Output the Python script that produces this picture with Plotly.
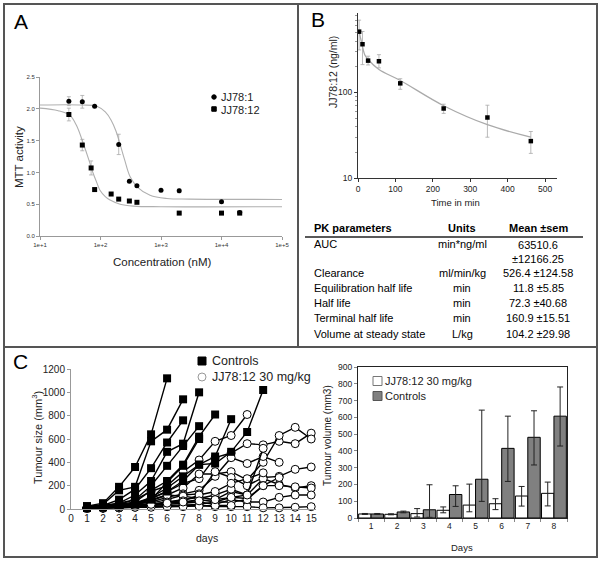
import plotly.graph_objects as go

W, H = 601, 562
def px(x): return x / W
def py(y): return 1 - y / H

FONT = "Liberation Sans, Arial, sans-serif"

# ---------------- Panel A: MTT dose response ----------------
conc_jj1 = [30, 50, 80, 200, 300, 400, 1000, 2000, 10000, 20000]
mtt_jj1 = [2.12, 2.11, 2.04, 1.44, 0.86, 0.79, 0.72, 0.71, 0.54, 0.37]
err_jj1 = [0.07, 0.10, 0.0, 0.16, 0.0, 0.0, 0.0, 0.03, 0.0, 0.0]
conc_jj12 = [30, 50, 70, 80, 150, 200, 300, 400, 2000, 10000, 20000]
mtt_jj12 = [1.91, 1.43, 1.07, 0.73, 0.66, 0.58, 0.55, 0.53, 0.36, 0.36, 0.36]
err_jj12 = [0.10, 0.09, 0.11, 0.02, 0, 0, 0, 0, 0, 0, 0]
fit_conc_jj1 = [10, 50, 87, 120, 150, 180, 211, 250, 309, 407, 660, 1250, 3000, 100000]
fit_mtt_jj1 = [2.06, 2.06, 2.04, 1.95, 1.82, 1.65, 1.44, 1.2, 0.93, 0.77, 0.64, 0.59, 0.58, 0.575]
fit_conc_jj12 = [10, 20, 31, 40, 53, 64, 74, 86, 98, 120, 144, 211, 350, 1000, 100000]
fit_mtt_jj12 = [2.01, 1.97, 1.9, 1.74, 1.43, 1.2, 1.01, 0.85, 0.72, 0.62, 0.565, 0.5, 0.47, 0.46, 0.46]
a_xticks = [10, 100, 1000, 10000, 100000]
a_xticklabels = ["1e+1", "1e+2", "1e+3", "1e+4", "1e+5"]
a_legend_names = ["JJ78:1", "JJ78:12"]

# ---------------- Panel B: PK profile ----------------
pk_time = [3, 12, 27, 56, 113, 229, 346, 462]
pk_conc = [515, 367, 236, 232, 128, 65, 51, 27]
pk_err_plus = [187, 150, 30, 45, 17, 8, 20, 8]
pk_err_minus = [200, 155, 26, 38, 19, 8, 21, 7.6]
pk_fit_time = [3, 9, 18, 27, 56, 112, 229, 346, 462]
pk_fit_conc = [515, 395, 277, 243, 186, 139, 70, 42, 30]

pk_params = ["AUC", "Clearance", "Equilibration half life", "Half life",
             "Terminal half life", "Volume at steady state"]
pk_units = ["min*ng/ml", "ml/min/kg", "min", "min", "min", "L/kg"]
pk_means = ["63510.6<br>±12166.25", "526.4 ±124.58", "11.8 ±5.85", "72.3 ±40.68",
            "160.9 ±15.51", "104.2 ±29.98"]
pk_row_y = [244, 273, 288, 303, 318, 334]

# ---------------- Panel C left: individual tumour growth ----------------
controls = [
    [25, 50, 190, 360, 640, 1120],
    [20, 40, 160, 190, 580, 680, 940],
    [15, 30, 80, 170, 350, 570, 760],
    [20, 30, 50, 120, 240, 490, 560, 1000],
    [15, 25, 40, 80, 200, 370, 540, 710],
    [15, 20, 40, 60, 160, 240, 380, 620, 810],
    [10, 20, 30, 50, 100, 180, 280, 380, 390, 490, 660, 1020],
    [10, 15, 25, 40, 90, 150, 240, 380, 450, 770],
    [12, 18, 30, 40, 80, 230, 370, 600],
]
treated = [
    [15, 25, 50, 80, 150, 200, 320, 420, 580, 630, 810],
    [10, 20, 30, 50, 90, 150, 220, 260, 440, 480, 560, 550, 580, 560, 650],
    [10, 15, 25, 40, 70, 120, 180, 300, 300, 320, 250, 400, 630, 700, 600],
    [10, 15, 20, 40, 60, 100, 130, 160, 280, 440, 390, 450, 400],
    [5, 10, 20, 30, 50, 80, 120, 130, 320, 270, 200, 270, 280, 340, 360],
    [5, 10, 15, 30, 40, 60, 80, 100, 80, 150, 120, 260, 210, 180, 200],
    [5, 10, 15, 20, 30, 50, 60, 80, 60, 100, 90, 200, 200, 190, 180],
    [5, 10, 10, 20, 30, 40, 50, 60, 40, 80, 60, 60, 100, 120, 120],
    [5, 5, 10, 15, 20, 20, 30, 30, 20, 20, 20, 10, 10, 15, 20],
    [10, 20, 30, 50, 80, 120, 110, 90, 120, 170, 120, 520],
    [10, 15, 20, 30, 40, 60, 70, 120, 150, 220, 260, 310],
    [5, 10, 15, 20, 25, 30, 40, 40, 60, 60, 80, 200, 270],
    [5, 10, 10, 15, 15, 20, 20, 25, 30, 30],
    [10, 15, 20, 30, 40, 50, 60, 70, 80, 100, 120],
]
cl_legend_names = ["Controls", "JJ78:12 30 mg/kg"]

# ---------------- Panel C right: mean tumour volume ----------------
bar_days = ["1", "2", "3", "4", "5", "6", "7", "8"]
vol_treated = [24, 22, 26, 46, 77, 85, 131, 147]
err_treated_plus = [3, 3, 30, 20, 125, 30, 57, 67]
err_treated_minus = [3, 3, 20, 15, 40, 35, 60, 75]
vol_ctrl = [24, 36, 49, 140, 231, 415, 481, 607]
err_ctrl_plus = [3, 5, 149, 52, 412, 192, 158, 174]
err_ctrl_minus = [3, 5, 45, 71, 132, 197, 165, 178]
cr_legend_names = ["JJ78:12 30 mg/kg", "Controls"]

fig = go.Figure()

# Panel A traces
fig.add_trace(go.Scatter(x=fit_conc_jj1, y=fit_mtt_jj1, mode="lines", line=dict(color="#b0b0b0", width=1.1, shape="spline"),
                         showlegend=False, xaxis="x", yaxis="y", hoverinfo="skip"))
fig.add_trace(go.Scatter(x=fit_conc_jj12, y=fit_mtt_jj12, mode="lines", line=dict(color="#b0b0b0", width=1.1, shape="spline"),
                         showlegend=False, xaxis="x", yaxis="y", hoverinfo="skip"))
fig.add_trace(go.Scatter(x=conc_jj1, y=mtt_jj1, mode="markers", name=a_legend_names[0], showlegend=False,
                         marker=dict(symbol="circle", size=5, color="black"),
                         error_y=dict(type="data", array=err_jj1, color="#aaaaaa", thickness=0.8, width=2),
                         xaxis="x", yaxis="y"))
fig.add_trace(go.Scatter(x=conc_jj12, y=mtt_jj12, mode="markers", name=a_legend_names[1], showlegend=False,
                         marker=dict(symbol="square", size=5, color="black"),
                         error_y=dict(type="data", array=err_jj12, color="#aaaaaa", thickness=0.8, width=2),
                         xaxis="x", yaxis="y"))

# Panel B traces
fig.add_trace(go.Scatter(x=pk_fit_time, y=pk_fit_conc, mode="lines", line=dict(color="#aaaaaa", width=1.3, shape="spline"),
                         showlegend=False, xaxis="x2", yaxis="y2", hoverinfo="skip"))
fig.add_trace(go.Scatter(x=pk_time, y=pk_conc, mode="markers", showlegend=False,
                         marker=dict(symbol="square", size=4.5, color="black"),
                         error_y=dict(type="data", symmetric=False, array=pk_err_plus, arrayminus=pk_err_minus,
                                      color="#aaaaaa", thickness=0.8, width=2),
                         xaxis="x2", yaxis="y2"))

# Panel C left traces
for mouse in treated:
    fig.add_trace(go.Scatter(x=list(range(1, len(mouse) + 1)), y=mouse, mode="lines+markers", showlegend=False,
                             name=cl_legend_names[1],
                             line=dict(color="black", width=1.4),
                             marker=dict(symbol="circle", size=8, color="white", line=dict(color="black", width=1)),
                             cliponaxis=False, xaxis="x3", yaxis="y3"))
for mouse in controls:
    fig.add_trace(go.Scatter(x=list(range(1, len(mouse) + 1)), y=mouse, mode="lines+markers", showlegend=False,
                             name=cl_legend_names[0],
                             line=dict(color="black", width=1.4),
                             marker=dict(symbol="square", size=8, color="black"),
                             cliponaxis=False, xaxis="x3", yaxis="y3"))

# Panel C right traces
fig.add_trace(go.Bar(x=bar_days, y=vol_treated, name=cr_legend_names[0], showlegend=False,
                     marker=dict(color="white", line=dict(color="black", width=1)),
                     error_y=dict(type="data", symmetric=False, array=err_treated_plus, arrayminus=err_treated_minus,
                                  color="#222222", thickness=1, width=3),
                     xaxis="x4", yaxis="y4"))
fig.add_trace(go.Bar(x=bar_days, y=vol_ctrl, name=cr_legend_names[1], showlegend=False,
                     marker=dict(color="#808080", line=dict(color="black", width=1)),
                     error_y=dict(type="data", symmetric=False, array=err_ctrl_plus, arrayminus=err_ctrl_minus,
                                  color="#222222", thickness=1, width=3),
                     xaxis="x4", yaxis="y4"))

annotations = []
def ann(text, x, y, size, xanchor="center", yanchor="middle", angle=0, bold=False, color="black"):
    if bold:
        text = "<b>" + text + "</b>"
    annotations.append(dict(text=text, x=px(x), y=py(y), xref="paper", yref="paper", showarrow=False,
                            xanchor=xanchor, yanchor=yanchor, textangle=angle,
                            font=dict(family=FONT, size=size, color=color)))

shapes = [
    dict(type="rect", xref="paper", yref="paper", x0=px(4), x1=px(597), y0=py(557), y1=py(4),
         line=dict(color="#555555", width=2)),
    dict(type="line", xref="paper", yref="paper", x0=px(298), x1=px(298), y0=py(347), y1=py(4),
         line=dict(color="#555555", width=2)),
    dict(type="line", xref="paper", yref="paper", x0=px(4), x1=px(597), y0=py(347), y1=py(347),
         line=dict(color="#555555", width=2)),
    dict(type="line", xref="paper", yref="paper", x0=px(305), x1=px(583), y0=py(237), y1=py(237),
         line=dict(color="#222222", width=1.5)),
]

def legend_symbol(kind, cx, cy, size, fill, outline):
    shapes.append(dict(type=kind, xref="paper", yref="paper",
                       x0=px(cx - size / 2), x1=px(cx + size / 2), y0=py(cy + size / 2), y1=py(cy - size / 2),
                       fillcolor=fill, line=dict(color=outline, width=1)))

# panel letters
ann("A", 21, 22, 21)
ann("B", 318, 19, 21)
ann("C", 20, 361, 21)
# axis titles
ann("MTT activity", 19, 157, 11.5, angle=-90, color="#222")
ann("Concentration (nM)", 162, 262, 11.5, color="#222")
ann("JJ78:12 (ng/ml)", 333, 72, 10.5, angle=-90, color="#222")
ann("Time in min", 455, 202, 9.5, color="#222")
ann("Tumour size (mm<sup>3</sup>)", 37, 438, 11, angle=-90, color="#222")
ann("days", 207, 538, 10.5, color="#222")
ann("Tumour volume (mm3)", 328, 436, 10, angle=-90, color="#222")
ann("Days", 462, 547, 9.5, color="#222")

# legends (drawn manually for compact row spacing)
legend_symbol("circle", 214, 97, 4.5, "black", "black")
ann(a_legend_names[0], 219, 97, 11, xanchor="left", color="#222")
legend_symbol("rect", 214, 109, 4.5, "black", "black")
ann(a_legend_names[1], 219, 109.5, 11, xanchor="left", color="#222")

legend_symbol("rect", 202, 361, 8, "black", "black")
ann(cl_legend_names[0], 210, 361, 12.5, xanchor="left", color="#222")
legend_symbol("circle", 202, 377, 8, "white", "#999999")
ann(cl_legend_names[1], 210, 377, 12.5, xanchor="left", color="#222")

legend_symbol("rect", 377.5, 381, 9, "white", "#777777")
ann(cr_legend_names[0], 383, 381, 11, xanchor="left", color="#222")
legend_symbol("rect", 377.5, 396, 9, "#808080", "#555555")
ann(cr_legend_names[1], 383, 396, 11, xanchor="left", color="#222")

# PK table
ann("PK parameters", 312, 228, 11, xanchor="left", bold=True)
ann("Units", 462, 228, 11, bold=True)
ann("Mean ±sem", 538, 228, 11, bold=True)
for p, u, m, yy in zip(pk_params, pk_units, pk_means, pk_row_y):
    ann(p, 312, yy, 11, xanchor="left")
    ann(u, 462, yy, 11)
    if "<br>" in m:
        annotations.append(dict(text=m, x=px(538), y=py(yy - 7), xref="paper", yref="paper", showarrow=False,
                                xanchor="center", yanchor="top", font=dict(family=FONT, size=11, color="black")))
    else:
        ann(m, 538, yy, 11)

fig.update_layout(
    width=W, height=H, template="none",
    margin=dict(l=0, r=0, t=0, b=0),
    paper_bgcolor="white", plot_bgcolor="rgba(0,0,0,0)",
    font=dict(family=FONT, color="#222"),
    showlegend=False,
    barmode="group", bargap=0.05, bargroupgap=0,
    annotations=annotations, shapes=shapes,
    # Panel A axes
    xaxis=dict(domain=[px(40), px(282)], type="log", range=[1, 5], tickvals=a_xticks, ticktext=a_xticklabels,
               showline=True, linecolor="#999", linewidth=1, ticks="outside", ticklen=3, tickcolor="#999",
               showgrid=False, zeroline=False, tickfont=dict(size=6, color="#333"), anchor="y"),
    yaxis=dict(domain=[py(236), py(77)], range=[0, 2.5], dtick=0.5, tickformat=".1f",
               showline=True, linecolor="#999", linewidth=1, ticks="outside", ticklen=3, tickcolor="#999",
               showgrid=False, zeroline=False, tickfont=dict(size=6, color="#333"), anchor="x"),
    # Panel B axes
    xaxis2=dict(domain=[px(358), px(557)], range=[0, 532], dtick=100,
                showline=True, linecolor="#333", linewidth=1, ticks="outside", ticklen=3, tickcolor="#333",
                showgrid=False, zeroline=False, tickfont=dict(size=8.5, color="#222"), anchor="y2"),
    yaxis2=dict(domain=[py(178), py(13)], type="log", range=[1, 2.93], tickvals=[10, 100],
                showline=True, linecolor="#333", linewidth=1, ticks="outside", ticklen=3, tickcolor="#333",
                minor=dict(ticks="outside", ticklen=2, tickcolor="#999",
                           tickvals=[20, 30, 40, 50, 60, 70, 80, 90, 200, 300, 400, 500, 600, 700, 800]),
                showgrid=False, zeroline=False, tickfont=dict(size=8.5, color="#222"), anchor="x2"),
    # Panel C left axes
    xaxis3=dict(domain=[px(71), px(316)], range=[0, 15.3], dtick=1, tick0=0,
                showline=True, linecolor="#999", linewidth=1, ticks="",
                showgrid=False, zeroline=False, tickfont=dict(size=10, color="#222"), anchor="y3"),
    yaxis3=dict(domain=[py(509), py(369)], range=[0, 1200], dtick=200,
                showline=True, linecolor="#999", linewidth=1, ticks="outside", ticklen=3, tickcolor="#999",
                showgrid=False, zeroline=False, tickfont=dict(size=10, color="#222"), anchor="x3"),
    # Panel C right axes
    xaxis4=dict(domain=[px(358), px(567)], type="category", tickson="boundaries",
                showline=True, mirror=True, linecolor="#222", linewidth=1, ticks="outside", ticklen=3, tickcolor="#888",
                showgrid=False, zeroline=False, tickfont=dict(size=8.5, color="#222"), anchor="y4"),
    yaxis4=dict(domain=[py(518), py(367)], range=[0, 900], dtick=100,
                showline=True, mirror=True, linecolor="#222", linewidth=1, ticks="outside", ticklen=3, tickcolor="#888",
                showgrid=False, zeroline=False, tickfont=dict(size=8.5, color="#222"), anchor="x4"),
)

fig.write_html("out.html", config={"displayModeBar": False},
               post_script="document.body.style.margin='0px';document.body.style.overflow='hidden';")
